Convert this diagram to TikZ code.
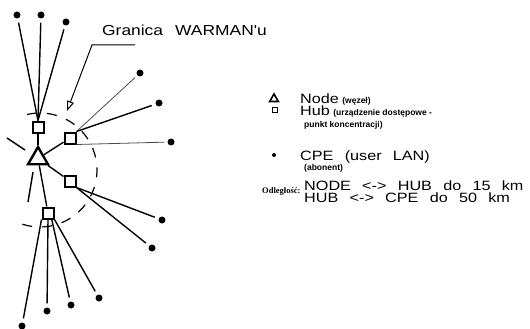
\documentclass[tikz,border=0pt]{standalone}
\usepackage{fontspec}
\setmainfont{Liberation Sans}
\newfontfamily\cadfont[FakeStretch=1.2,WordSpace=2.5]{Liberation Sans}
\newfontfamily\notefont{Liberation Sans}
\newfontfamily\serifnote{Liberation Serif}
\usetikzlibrary{arrows.meta,shapes.geometric}

\tikzset{
  nodemark/.style={draw,regular polygon,regular polygon sides=3,minimum size=23pt,inner sep=0pt,line width=2.4pt},
  hubmark/.style={draw,rectangle,minimum size=11pt,inner sep=0pt,line width=2pt},
  cpe/.style={circle,fill=black,minimum size=7pt,inner sep=0pt},
  link/.style={line width=1.4pt},
  drop/.style={line width=1.4pt,shorten >=4pt},
  faintdrop/.style={line width=0.8pt,black!70,shorten >=3pt},
  boundary/.style={line width=1.2pt,dash pattern=on 10pt off 10pt},
  bigtext/.style={font=\cadfont\fontsize{13.5}{15}\selectfont,anchor=base west,inner sep=0pt},
  small/.style={font=\notefont\bfseries\fontsize{8.5}{10}\selectfont,anchor=base west,inner sep=0pt},
}

\begin{document}
\begin{tikzpicture}[x=1pt,y=-1pt]
\useasboundingbox (0,0) rectangle (530,329);

% backbone node and hubs
\node[nodemark] (tri) at (38,158.5) {};
\node[hubmark] (h1) at (38,127) {};
\node[hubmark] (h2) at (70,138) {};
\node[hubmark] (h3) at (70,181) {};
\node[hubmark] (h4) at (48,213) {};

% subscriber sites
\node[cpe] (d1) at (17,15) {};
\node[cpe] (d2) at (41,15) {};
\node[cpe] (d3) at (66,22) {};
\node[cpe] (d4) at (140,73) {};
\node[cpe] (d5) at (159,103) {};
\node[cpe] (d6) at (171,142) {};
\node[cpe] (d7) at (162,220) {};
\node[cpe] (d8) at (152,248) {};
\node[cpe] (d9) at (22,326) {};
\node[cpe] (d10) at (47,311) {};
\node[cpe] (d11) at (71,305) {};
\node[cpe] (d12) at (99,298) {};

% node to hub links
\draw[link] (tri) -- (h1);
\draw[link] (tri) -- (h2);
\draw[link] (tri) -- (h3);
\draw[link] (tri) -- (h4);

% hub to subscriber links
\draw[drop] (h1.north) -- (d1);
\draw[drop] (h1.north) -- (d2);
\draw[drop] (h1.north) -- (d3);
\draw[faintdrop] (h2.north east) -- (d4);
\draw[drop] (h2.north east) -- (d5);
\draw[faintdrop] (h2.south east) -- (d6);
\draw[drop] (h3.south east) -- (d7);
\draw[drop] (h3.south east) -- (d8);
\draw[drop] (h4.south west) -- (d9);
\draw[drop] (h4.south) -- (d10);
\draw[drop] (h4.-60) -- (d11);
\draw[drop] (h4.south east) -- (d12);

% short stubs leaving the node
\coordinate (s1a) at (7,138);  \coordinate (s1b) at (25,150);
\coordinate (s2a) at (28,202); \coordinate (s2b) at (33,172);
\draw[link] (s1a) -- (s1b);
\draw[link] (s2a) -- (s2b);

% network boundary
\coordinate (bc) at (40,170);
\draw[boundary] (bc) ++(-108:57pt) arc[start angle=-108,end angle=103,radius=57pt];

% boundary label with callout
\node[bigtext,font=\cadfont\fontsize{14.5}{17}\selectfont] (lbl) at (102,36) {Granica WARMAN'u};
\coordinate (c0) at (135,45);
\coordinate (c1) at (92,45);
\coordinate (c2) at (67,111);
\draw[line width=1pt,-{Triangle[open,length=10pt,width=7pt]}] (c0) -- (c1) -- (c2);

% legend
\node[draw,regular polygon,regular polygon sides=3,minimum size=10pt,inner sep=0pt,line width=1.6pt] (kn) at (274,99) {};
\node[draw,rectangle,minimum size=5pt,inner sep=0pt,line width=1.6pt] (kh) at (275,110) {};
\node[circle,fill=black,minimum size=4pt,inner sep=0pt] (kc) at (274,155) {};

\node[bigtext] (tn) at (300,103) {Node};
\node[small] (tnn) at ([xshift=3pt]tn.base east) {(węzeł)};
\node[bigtext] (th) at (300,115) {Hub};
\node[small] (thn) at ([xshift=3pt]th.base east) {(urządzenie dostępowe -};
\node[small] (thm) at (304,127) {punkt koncentracji)};
\node[bigtext] (tc) at (300,160) {CPE (user LAN)};
\node[small] (tcn) at (304,170) {(abonent)};

\node[font=\serifnote\bfseries\fontsize{8.5}{10}\selectfont,anchor=base west,inner sep=0pt] (todl) at (262,193) {Odległość:};
\node[bigtext] (tr1) at (304,190) {NODE <-> HUB do 15 km};
\node[bigtext] (tr2) at (304,202) {HUB <-> CPE do 50 km};
\end{tikzpicture}
\end{document}
